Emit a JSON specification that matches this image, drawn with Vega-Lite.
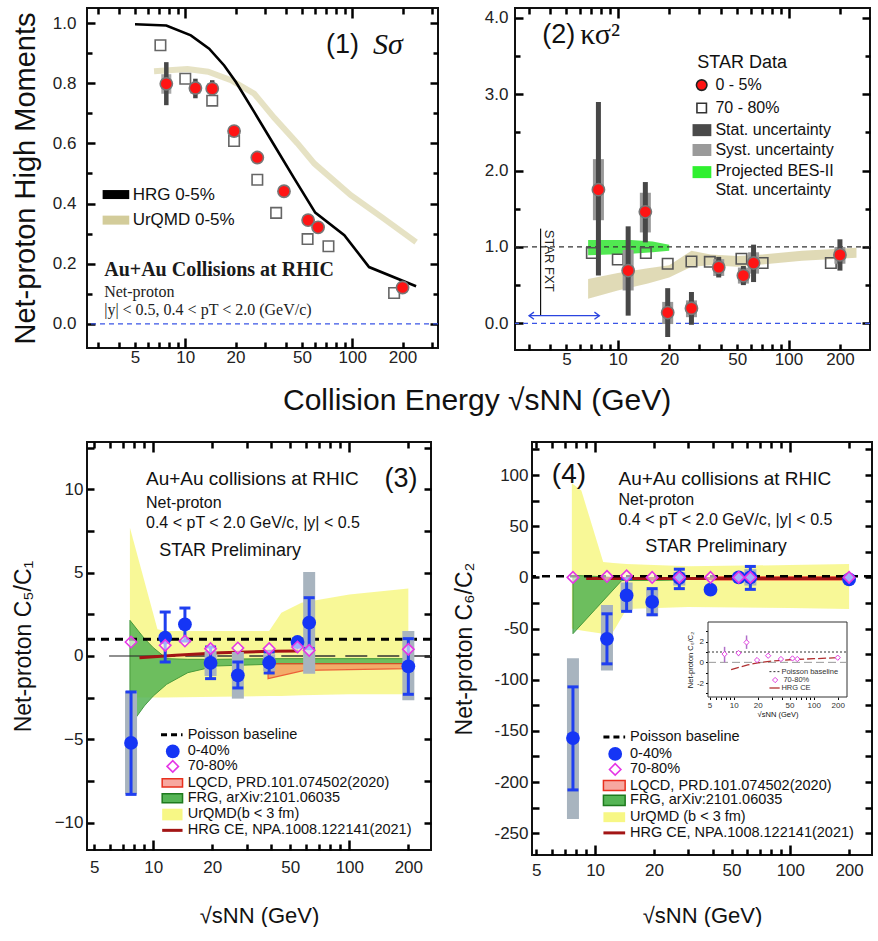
{
  "$schema": "https://vega.github.io/schema/vega-lite/v6.json",
  "padding": {"left": 9, "top": 5, "right": 0, "bottom": 0},
  "config": {
    "font": "Liberation Sans",
    "view": {"stroke": "#111", "strokeWidth": 2},
    "axis": {"grid": false, "domain": false, "ticks": true, "tickColor": "black", "tickWidth": 2.5, "tickOpacity": 1, "labelFontSize": 17, "labelColor": "#222", "titleColor": "#111", "titleFontWeight": "normal", "labelFlush": false, "labelOverlap": false, "labelFont": "Liberation Sans", "titleFont": "Liberation Sans"}
  },
  "datasets": {
    "p1_hrg": [{"e":5,"v":0.996},{"e":7.7,"v":0.992},{"e":10.8,"v":0.959},{"e":13.9,"v":0.915},{"e":17.1,"v":0.859},{"e":20.1,"v":0.804},{"e":25.9,"v":0.704},{"e":34.1,"v":0.594},{"e":45,"v":0.483},{"e":60,"v":0.37},{"e":89.6,"v":0.295},{"e":126,"v":0.189},{"e":241,"v":0.125}],
    "p1_urqmd": [{"e":6.5,"v":0.84},{"e":10.3,"v":0.847},{"e":13.7,"v":0.838},{"e":18.8,"v":0.81},{"e":25.9,"v":0.765},{"e":34.1,"v":0.685},{"e":47,"v":0.6},{"e":59.3,"v":0.533},{"e":98,"v":0.428},{"e":150,"v":0.355},{"e":241,"v":0.272}],
    "p1_red": [{"e":7.7,"v":0.798},{"e":11.5,"v":0.784},{"e":14.5,"v":0.782},{"e":19.6,"v":0.641},{"e":27,"v":0.553},{"e":39,"v":0.441},{"e":54.4,"v":0.345},{"e":62.4,"v":0.321},{"e":200,"v":0.121}],
    "p1_err": [{"e":7.7,"slo":0.727,"shi":0.87,"ylo":0.765,"yhi":0.83},{"e":11.5,"slo":0.75,"shi":0.815,"ylo":0.765,"yhi":0.8},{"e":14.5,"slo":0.762,"shi":0.81,"ylo":0.77,"yhi":0.8}],
    "p1_sq": [{"e":7.1,"v":0.926},{"e":10,"v":0.815},{"e":14.5,"v":0.742},{"e":19.6,"v":0.608},{"e":27,"v":0.479},{"e":35,"v":0.369},{"e":54,"v":0.282},{"e":72,"v":0.258},{"e":178,"v":0.103}],
    "p2_red": [{"e":7.7,"v":1.75,"slo":0.625,"shi":2.9,"ylo":1.35,"yhi":2.15},{"e":11.5,"v":0.69,"slo":0.1,"shi":1.27,"ylo":0.43,"yhi":0.96},{"e":14.5,"v":1.46,"slo":1.06,"shi":1.85,"ylo":1.19,"yhi":1.71},{"e":19.6,"v":0.14,"slo":-0.18,"shi":0.46,"ylo":-0.01,"yhi":0.28},{"e":27,"v":0.197,"slo":-0.02,"shi":0.41,"ylo":0.08,"yhi":0.3},{"e":39,"v":0.734,"slo":0.6,"shi":0.87,"ylo":0.62,"yhi":0.84},{"e":54.4,"v":0.625,"slo":0.5,"shi":0.75,"ylo":0.52,"yhi":0.73},{"e":62.4,"v":0.79,"slo":0.54,"shi":1.03,"ylo":0.65,"yhi":0.93},{"e":200,"v":0.896,"slo":0.69,"shi":1.1,"ylo":0.78,"yhi":1.0}],
    "p2_sq": [{"e":7.05,"v":0.92},{"e":10,"v":0.835},{"e":14.6,"v":0.92},{"e":19.6,"v":0.78},{"e":27,"v":0.81},{"e":34.6,"v":0.805},{"e":53,"v":0.845},{"e":70.5,"v":0.79},{"e":177,"v":0.79}],
    "p2_urqmd": [{"e":6.7,"lo":0.32,"hi":0.58},{"e":10,"lo":0.43,"hi":0.66},{"e":15,"lo":0.52,"hi":0.72},{"e":20,"lo":0.6,"hi":0.76},{"e":27,"lo":0.74,"hi":0.95},{"e":35,"lo":0.76,"hi":0.9},{"e":50,"lo":0.74,"hi":0.88},{"e":70,"lo":0.77,"hi":0.9},{"e":120,"lo":0.82,"hi":0.95},{"e":250,"lo":0.86,"hi":0.99}],
    "p2_bes": [{"e":6.7,"lo":0.89,"hi":1.09},{"e":12,"lo":0.91,"hi":1.09},{"e":16,"lo":0.93,"hi":1.07},{"e":20,"lo":0.95,"hi":1.03}],
    "p3_blue": [{"e":7.7,"v":-5.22},{"e":11.5,"v":1.1},{"e":14.5,"v":1.9},{"e":19.6,"v":-0.42},{"e":27,"v":-1.16},{"e":39,"v":-0.4},{"e":54.4,"v":0.84},{"e":62.4,"v":2.0},{"e":200,"v":-0.62}],
    "p3_stat": [{"e":7.7,"lo":-8.31,"hi":-2.16},{"e":11.5,"lo":-0.36,"hi":2.64},{"e":14.5,"lo":0.9,"hi":2.88},{"e":19.6,"lo":-1.36,"hi":0.54},{"e":27,"lo":-1.92,"hi":-0.36},{"e":39,"lo":-1.02,"hi":0.24},{"e":62.4,"lo":0.44,"hi":3.5},{"e":200,"lo":-2.3,"hi":1.04}],
    "p3_sys": [{"e":7.7,"lo":-8.3,"hi":-2.1},{"e":19.6,"lo":-1.2,"hi":0.3},{"e":27,"lo":-2.56,"hi":0.24},{"e":39,"lo":-0.9,"hi":0.1},{"e":62.4,"lo":-1.06,"hi":5.05},{"e":200,"lo":-2.66,"hi":1.5}],
    "p3_dia": [{"e":7.7,"v":0.84},{"e":11.5,"v":0.64},{"e":14.5,"v":0.9},{"e":19.6,"v":0.44},{"e":27,"v":0.48},{"e":39,"v":0.44},{"e":54.4,"v":0.54},{"e":62.4,"v":0.34},{"e":200,"v":0.4}],
    "p3_urqmd": [{"e":7.6,"lo":-2.5,"hi":7.7},{"e":10.5,"lo":-2.5,"hi":1.6},{"e":11.5,"lo":-2.5,"hi":1.5},{"e":39,"lo":-2.4,"hi":1.5},{"e":45,"lo":-2.4,"hi":2.6},{"e":57,"lo":-2.35,"hi":3.2},{"e":100,"lo":-2.3,"hi":3.7},{"e":200,"lo":-2.3,"hi":4.05}],
    "p3_frg": [{"e":7.6,"lo":-4.2,"hi":2.14},{"e":9,"lo":-3.0,"hi":1.05},{"e":10,"lo":-2.4,"hi":0.5},{"e":11.7,"lo":-1.7,"hi":-0.16},{"e":15,"lo":-1.0,"hi":-0.2},{"e":21,"lo":-0.6,"hi":-0.2},{"e":39,"lo":-0.5,"hi":-0.16},{"e":200,"lo":-0.46,"hi":-0.16}],
    "p3_lqcd": [{"e":38.5,"lo":-1.36,"hi":-0.46},{"e":59,"lo":-0.86,"hi":-0.46},{"e":198,"lo":-0.76,"hi":-0.46}],
    "p3_hrg": [{"e":8.5,"v":-0.1},{"e":13,"v":0.05},{"e":22,"v":0.2},{"e":40,"v":0.28},{"e":55,"v":0.3}],
    "p4_blue": [{"e":7.7,"v":-157},{"e":11.5,"v":-60},{"e":14.5,"v":-17.6},{"e":19.6,"v":-24},{"e":27,"v":-0.4},{"e":39,"v":-12},{"e":54.4,"v":0},{"e":62.4,"v":0},{"e":200,"v":-2}],
    "p4_stat": [{"e":7.7,"lo":-207.7,"hi":-107},{"e":11.5,"lo":-84.5,"hi":-35.6},{"e":14.5,"lo":-33.2,"hi":-1.3},{"e":19.6,"lo":-36.5,"hi":-11},{"e":27,"lo":-11,"hi":8},{"e":62.4,"lo":-11.7,"hi":10.7}],
    "p4_sys": [{"e":7.7,"lo":-236,"hi":-79},{"e":11.5,"lo":-91,"hi":-27},{"e":14.5,"lo":-32,"hi":-5},{"e":19.6,"lo":-38,"hi":-12},{"e":27,"lo":-8,"hi":5},{"e":39,"lo":-16,"hi":-9},{"e":54.4,"lo":-4,"hi":4},{"e":62.4,"lo":-8,"hi":8}],
    "p4_dia": [{"e":7.7,"v":0},{"e":11.5,"v":1},{"e":14.5,"v":1.5},{"e":19.6,"v":0},{"e":27,"v":0},{"e":39,"v":0},{"e":54.4,"v":0},{"e":62.4,"v":0},{"e":200,"v":0}],
    "p4_urqmd": [{"e":7.6,"lo":-50,"hi":92},{"e":8.5,"lo":-52,"hi":85},{"e":11,"lo":-55,"hi":15},{"e":12.4,"lo":-53,"hi":14},{"e":14.5,"lo":-31,"hi":13},{"e":30,"lo":-29,"hi":11},{"e":100,"lo":-30,"hi":12},{"e":200,"lo":-31,"hi":13}],
    "p4_frg": [{"e":7.7,"lo":-55,"hi":2},{"e":10,"lo":-31.4,"hi":1},{"e":13.7,"lo":-3,"hi":-0.5},{"e":20,"lo":-3,"hi":-0.5},{"e":27,"lo":-2.5,"hi":-0.5}],
    "p4_lqcd": [{"e":39,"lo":-3,"hi":1},{"e":200,"lo":-3,"hi":1}],
    "p4_hrg": [{"e":9,"v":-1},{"e":200,"v":-1}],
    "p4_inset": [{"e":7.7,"v":0.8,"lo":0.0,"hi":1.5},{"e":11.5,"v":0.9,"lo":0.6,"hi":1.1},{"e":14.5,"v":1.93,"lo":1.3,"hi":2.6},{"e":19.6,"v":0.22,"lo":0.1,"hi":0.35},{"e":27,"v":0.64,"lo":0.5,"hi":0.8},{"e":39,"v":0.32,"lo":0.25,"hi":0.4},{"e":54.4,"v":0.38,"lo":0.3,"hi":0.45},{"e":62.4,"v":0.32,"lo":0.25,"hi":0.4},{"e":200,"v":0.45,"lo":0.38,"hi":0.52}],
    "p4_inset_hrg": [{"e":9.3,"v":-0.7},{"e":12,"v":-0.45},{"e":15,"v":-0.25},{"e":20,"v":-0.05},{"e":30,"v":0.12},{"e":50,"v":0.25},{"e":100,"v":0.35},{"e":200,"v":0.45}]
  },
  "spacing": 21,
  "vconcat": [
    {
      "spacing": 42,
      "title": {"text": "Collision Energy √sNN (GeV)", "orient": "bottom", "anchor": "middle", "fontSize": 30, "fontWeight": "normal", "font": "Liberation Sans", "color": "#111", "offset": 18, "dx": 36},
      "hconcat": [
        {
          "width": 351, "height": 340,
          "resolve": {"axis": {"x": "independent", "y": "independent"}},
          "layer": [
            {"data": {"name": "p1_urqmd"}, "mark": {"type": "line", "color": "#ddd8b0", "strokeWidth": 6, "opacity": 0.75, "clip": true},
             "encoding": {
               "x": {"field": "e", "type": "quantitative", "scale": {"type": "log", "domain": [2.58, 326], "nice": false},
                     "axis": {"orient": "bottom", "title": null, "values": [10, 100], "offset": -10, "tickSize": 10, "tickColor": "black", "tickWidth": 2.5, "labelPadding": 1}},
               "y": {"field": "v", "type": "quantitative", "scale": {"domain": [-0.08, 1.05], "nice": false, "zero": false},
                     "axis": {"orient": "left", "title": "Net-proton High Moments", "titleFontSize": 29, "titleX": -70, "titleBaseline": "middle", "values": [0,0.2,0.4,0.6,0.8,1.0], "format": ".1f", "offset": -8, "tickSize": 8, "tickColor": "black", "tickWidth": 2.5, "labelPadding": 11}}
             }},
            {"data": {"name": "p1_hrg"}, "mark": {"type": "line", "color": "#000", "strokeWidth": 2.6, "clip": true},
             "encoding": {
               "x": {"field": "e", "type": "quantitative", "axis": {"orient": "top", "title": null, "labels": false, "values": [10, 100], "offset": -10, "tickSize": 10, "tickColor": "black", "tickWidth": 2.5}},
               "y": {"field": "v", "type": "quantitative", "axis": {"orient": "right", "title": null, "labels": false, "values": [0,0.2,0.4,0.6,0.8,1.0], "offset": -8, "tickSize": 8, "tickColor": "black", "tickWidth": 2.5}}
             }},
            {"data": {"values": [{}]}, "mark": {"type": "rule", "color": "#3a55e6", "strokeDash": [5, 4], "strokeWidth": 1.3},
             "encoding": {"y": {"datum": 0, "type": "quantitative", "axis": null}}},
            {"data": {"name": "p1_err"}, "mark": {"type": "rule", "color": "#a8a8a8", "strokeWidth": 10},
             "encoding": {
               "x": {"field": "e", "type": "quantitative", "axis": {"orient": "bottom", "title": null, "values": [3,4,5,6,7,8,9,20,30,40,50,60,70,80,90,200,300], "labelExpr": "indexof([5,20,50,200], datum.value) >= 0 ? '' + datum.value : ''", "offset": -6, "tickSize": 6, "tickColor": "black", "tickWidth": 2.5, "labelPadding": 1}},
               "y": {"field": "ylo", "type": "quantitative", "axis": {"orient": "left", "title": null, "labels": false, "values": [0.1,0.3,0.5,0.7,0.9], "offset": -5, "tickSize": 5, "tickColor": "black", "tickWidth": 2.5}},
               "y2": {"field": "yhi"}}},
            {"data": {"name": "p1_err"}, "mark": {"type": "rule", "color": "#474747", "strokeWidth": 4.5},
             "encoding": {
               "x": {"field": "e", "type": "quantitative", "axis": {"orient": "top", "title": null, "labels": false, "values": [3,4,5,6,7,8,9,20,30,40,50,60,70,80,90,200,300], "offset": -6, "tickSize": 6, "tickColor": "black", "tickWidth": 2.5}},
               "y": {"field": "slo", "type": "quantitative", "axis": {"orient": "right", "title": null, "labels": false, "values": [0.1,0.3,0.5,0.7,0.9], "offset": -5, "tickSize": 5, "tickColor": "black", "tickWidth": 2.5}},
               "y2": {"field": "shi"}}},
            {"data": {"name": "p1_sq"}, "mark": {"type": "point", "shape": "square", "filled": false, "stroke": "#666", "strokeWidth": 1.6, "size": 110, "opacity": 1},
             "encoding": {"x": {"field": "e", "type": "quantitative", "axis": null}, "y": {"field": "v", "type": "quantitative", "axis": null}}},
            {"data": {"name": "p1_red"}, "mark": {"type": "point", "shape": "circle", "filled": true, "fill": "#ff1414", "stroke": "#777", "strokeWidth": 1.6, "size": 150, "opacity": 1},
             "encoding": {"x": {"field": "e", "type": "quantitative", "axis": null}, "y": {"field": "v", "type": "quantitative", "axis": null}}},
            {"data": {"values": [{"x1": 3.2, "x2": 4.62, "v": 0.43}]}, "mark": {"type": "rule", "color": "#000", "strokeWidth": 9},
             "encoding": {"x": {"field": "x1", "type": "quantitative", "axis": null}, "x2": {"field": "x2"}, "y": {"field": "v", "type": "quantitative", "axis": null}}},
            {"data": {"values": [{"x1": 3.2, "x2": 4.62, "v": 0.345}]}, "mark": {"type": "rule", "color": "#d3cc9a", "strokeWidth": 9},
             "encoding": {"x": {"field": "x1", "type": "quantitative", "axis": null}, "x2": {"field": "x2"}, "y": {"field": "v", "type": "quantitative", "axis": null}}},
            {"data": {"values": [{"e": 4.84, "v": 0.43, "t": "HRG 0-5%"}, {"e": 4.84, "v": 0.345, "t": "UrQMD 0-5%"}]},
             "mark": {"type": "text", "align": "left", "baseline": "middle", "font": "Liberation Sans", "fontSize": 17, "color": "#111"},
             "encoding": {"x": {"field": "e", "type": "quantitative", "axis": null}, "y": {"field": "v", "type": "quantitative", "axis": null}, "text": {"field": "t"}}},
            {"data": {"values": [{"e": 3.27, "v": 0.178, "t": "Au+Au Collisions at RHIC"}]},
             "mark": {"type": "text", "align": "left", "baseline": "middle", "font": "Liberation Serif", "fontWeight": "bold", "fontSize": 20, "color": "#1a1a1a"},
             "encoding": {"x": {"field": "e", "type": "quantitative", "axis": null}, "y": {"field": "v", "type": "quantitative", "axis": null}, "text": {"field": "t"}}},
            {"data": {"values": [{"e": 3.27, "v": 0.106, "t": "Net-proton"}, {"e": 3.27, "v": 0.0455, "t": "|y| < 0.5,  0.4 < pT < 2.0 (GeV/c)"}]},
             "mark": {"type": "text", "align": "left", "baseline": "middle", "font": "Liberation Serif", "fontSize": 16, "color": "#222"},
             "encoding": {"x": {"field": "e", "type": "quantitative", "axis": null}, "y": {"field": "v", "type": "quantitative", "axis": null}, "text": {"field": "t"}}},
            {"data": {"values": [{"e": 69.6, "v": 0.927, "t": "(1)"}]},
             "mark": {"type": "text", "align": "left", "baseline": "middle", "font": "Liberation Sans", "fontSize": 27, "color": "#111"},
             "encoding": {"x": {"field": "e", "type": "quantitative", "axis": null}, "y": {"field": "v", "type": "quantitative", "axis": null}, "text": {"field": "t"}}},
            {"data": {"values": [{"e": 133, "v": 0.927, "t": "Sσ"}]},
             "mark": {"type": "text", "align": "left", "baseline": "middle", "font": "Liberation Serif", "fontStyle": "italic", "fontSize": 30, "color": "#111"},
             "encoding": {"x": {"field": "e", "type": "quantitative", "axis": null}, "y": {"field": "v", "type": "quantitative", "axis": null}, "text": {"field": "t"}}}
          ]
        },
        {
          "width": 355, "height": 342,
          "resolve": {"axis": {"x": "independent", "y": "independent"}},
          "layer": [
            {"data": {"name": "p2_urqmd"}, "mark": {"type": "area", "color": "#d8d1a4", "opacity": 0.8, "clip": true},
             "encoding": {
               "x": {"field": "e", "type": "quantitative", "scale": {"type": "log", "domain": [2.5, 300], "nice": false},
                     "axis": {"orient": "bottom", "title": null, "values": [10, 100], "offset": -10, "tickSize": 10, "tickColor": "black", "tickWidth": 2.5, "labelPadding": 1}},
               "y": {"field": "lo", "type": "quantitative", "scale": {"domain": [-0.35, 4.13], "nice": false, "zero": false},
                     "axis": {"orient": "left", "title": null, "values": [0,1,2,3,4], "format": ".1f", "offset": -8, "tickSize": 8, "tickColor": "black", "tickWidth": 2.5, "labelPadding": 7}},
               "y2": {"field": "hi"}
             }},
            {"data": {"name": "p2_bes"}, "mark": {"type": "area", "color": "#33e433", "opacity": 0.85},
             "encoding": {"x": {"field": "e", "type": "quantitative", "axis": null}, "y": {"field": "lo", "type": "quantitative", "axis": null}, "y2": {"field": "hi"}}},
            {"data": {"values": [{}]}, "mark": {"type": "rule", "color": "#333", "strokeDash": [5, 4], "strokeWidth": 1.3},
             "encoding": {"y": {"datum": 1, "type": "quantitative", "axis": null}}},
            {"data": {"values": [{}]}, "mark": {"type": "rule", "color": "#3a55e6", "strokeDash": [5, 4], "strokeWidth": 1.3},
             "encoding": {"y": {"datum": 0, "type": "quantitative", "axis": null}}},
            {"data": {"name": "p2_sq"}, "mark": {"type": "point", "shape": "square", "filled": false, "stroke": "#555", "strokeWidth": 1.6, "size": 110, "opacity": 1},
             "encoding": {
               "x": {"field": "e", "type": "quantitative", "axis": {"orient": "top", "title": null, "labels": false, "values": [10, 100], "offset": -10, "tickSize": 10, "tickColor": "black", "tickWidth": 2.5}},
               "y": {"field": "v", "type": "quantitative", "axis": {"orient": "right", "title": null, "labels": false, "values": [0,1,2,3,4], "offset": -8, "tickSize": 8, "tickColor": "black", "tickWidth": 2.5}}
             }},
            {"data": {"name": "p2_red"}, "mark": {"type": "rule", "color": "#999", "strokeWidth": 11},
             "encoding": {
               "x": {"field": "e", "type": "quantitative", "axis": {"orient": "bottom", "title": null, "values": [3,4,5,6,7,8,9,20,30,40,50,60,70,80,90,200], "labelExpr": "indexof([5,20,50,200], datum.value) >= 0 ? '' + datum.value : ''", "offset": -6, "tickSize": 6, "tickColor": "black", "tickWidth": 2.5, "labelPadding": 1}},
               "y": {"field": "ylo", "type": "quantitative", "axis": {"orient": "left", "title": null, "labels": false, "values": [0.5,1.5,2.5,3.5], "offset": -5, "tickSize": 5, "tickColor": "black", "tickWidth": 2.5}},
               "y2": {"field": "yhi"}}},
            {"data": {"name": "p2_red"}, "mark": {"type": "rule", "color": "#474747", "strokeWidth": 5},
             "encoding": {
               "x": {"field": "e", "type": "quantitative", "axis": {"orient": "top", "title": null, "labels": false, "values": [3,4,5,6,7,8,9,20,30,40,50,60,70,80,90,200], "offset": -6, "tickSize": 6, "tickColor": "black", "tickWidth": 2.5}},
               "y": {"field": "slo", "type": "quantitative", "axis": {"orient": "right", "title": null, "labels": false, "values": [0.5,1.5,2.5,3.5], "offset": -5, "tickSize": 5, "tickColor": "black", "tickWidth": 2.5}},
               "y2": {"field": "shi"}}},
            {"data": {"name": "p2_red"}, "mark": {"type": "point", "shape": "circle", "filled": true, "fill": "#ff1414", "stroke": "#777", "strokeWidth": 1.6, "size": 150, "opacity": 1},
             "encoding": {"x": {"field": "e", "type": "quantitative", "axis": null}, "y": {"field": "v", "type": "quantitative", "axis": null}}},
            {"data": {"values": [{"e": 3.53, "v1": 0.105, "v2": 1.24}]}, "mark": {"type": "rule", "color": "#111", "strokeWidth": 1.2},
             "encoding": {"x": {"field": "e", "type": "quantitative", "axis": null}, "y": {"field": "v1", "type": "quantitative", "axis": null}, "y2": {"field": "v2"}}},
            {"data": {"values": [{"e1": 3.02, "e2": 7.8, "v": 0.1}]}, "mark": {"type": "rule", "color": "#2b45e0", "strokeWidth": 1.3},
             "encoding": {"x": {"field": "e1", "type": "quantitative", "axis": null}, "x2": {"field": "e2"}, "y": {"field": "v", "type": "quantitative", "axis": null}}},
            {"data": {"values": [{"e": 3.02, "v": 0.1}]}, "mark": {"type": "point", "shape": "M1.4,-1L0,0L1.4,1", "filled": false, "stroke": "#2b45e0", "strokeWidth": 1.3, "size": 50, "opacity": 1},
             "encoding": {"x": {"field": "e", "type": "quantitative", "axis": null}, "y": {"field": "v", "type": "quantitative", "axis": null}}},
            {"data": {"values": [{"e": 7.8, "v": 0.1}]}, "mark": {"type": "point", "shape": "M-1.4,-1L0,0L-1.4,1", "filled": false, "stroke": "#2b45e0", "strokeWidth": 1.3, "size": 50, "opacity": 1},
             "encoding": {"x": {"field": "e", "type": "quantitative", "axis": null}, "y": {"field": "v", "type": "quantitative", "axis": null}}},
            {"data": {"values": [{"e": 3.94, "v": 0.82, "t": "STAR FXT"}]},
             "mark": {"type": "text", "align": "center", "baseline": "middle", "angle": 90, "font": "Liberation Sans", "fontSize": 13, "color": "#222"},
             "encoding": {"x": {"field": "e", "type": "quantitative", "axis": null}, "y": {"field": "v", "type": "quantitative", "axis": null}, "text": {"field": "t"}}},
            {"data": {"values": [{"e": 3.61, "v": 3.78, "t": "(2)"}]},
             "mark": {"type": "text", "align": "left", "baseline": "middle", "font": "Liberation Sans", "fontSize": 27, "color": "#111"},
             "encoding": {"x": {"field": "e", "type": "quantitative", "axis": null}, "y": {"field": "v", "type": "quantitative", "axis": null}, "text": {"field": "t"}}},
            {"data": {"values": [{"e": 6.03, "v": 3.78, "t": "κσ²"}]},
             "mark": {"type": "text", "align": "left", "baseline": "middle", "font": "Liberation Serif", "fontSize": 30, "color": "#111"},
             "encoding": {"x": {"field": "e", "type": "quantitative", "axis": null}, "y": {"field": "v", "type": "quantitative", "axis": null}, "text": {"field": "t"}}},
            {"data": {"values": [{"e": 29.2, "v": 3.41, "t": "STAR Data"}]},
             "mark": {"type": "text", "align": "left", "baseline": "middle", "font": "Liberation Sans", "fontSize": 18, "color": "#111"},
             "encoding": {"x": {"field": "e", "type": "quantitative", "axis": null}, "y": {"field": "v", "type": "quantitative", "axis": null}, "text": {"field": "t"}}},
            {"data": {"values": [{"e": 37.3, "v": 3.12, "t": "0 - 5%"}, {"e": 37.3, "v": 2.82, "t": "70 - 80%"}, {"e": 37.3, "v": 2.53, "t": "Stat. uncertainty"}, {"e": 37.3, "v": 2.27, "t": "Syst. uncertainty"}, {"e": 37.3, "v": 1.99, "t": "Projected BES-II"}, {"e": 37.3, "v": 1.74, "t": "Stat. uncertainty"}]},
             "mark": {"type": "text", "align": "left", "baseline": "middle", "font": "Liberation Sans", "fontSize": 16, "color": "#111"},
             "encoding": {"x": {"field": "e", "type": "quantitative", "axis": null}, "y": {"field": "v", "type": "quantitative", "axis": null}, "text": {"field": "t"}}},
            {"data": {"values": [{"e": 31, "v": 3.12}]}, "mark": {"type": "point", "shape": "circle", "filled": true, "fill": "#ff1414", "stroke": "#222", "strokeWidth": 1.6, "size": 110, "opacity": 1},
             "encoding": {"x": {"field": "e", "type": "quantitative", "axis": null}, "y": {"field": "v", "type": "quantitative", "axis": null}}},
            {"data": {"values": [{"e": 31, "v": 2.82}]}, "mark": {"type": "point", "shape": "square", "filled": false, "stroke": "#333", "strokeWidth": 1.6, "size": 90, "opacity": 1},
             "encoding": {"x": {"field": "e", "type": "quantitative", "axis": null}, "y": {"field": "v", "type": "quantitative", "axis": null}}},
            {"data": {"values": [{"x1": 27.4, "x2": 35.3, "v": 2.53}]}, "mark": {"type": "rule", "color": "#4a4a4a", "strokeWidth": 12},
             "encoding": {"x": {"field": "x1", "type": "quantitative", "axis": null}, "x2": {"field": "x2"}, "y": {"field": "v", "type": "quantitative", "axis": null}}},
            {"data": {"values": [{"x1": 27.4, "x2": 35.3, "v": 2.27}]}, "mark": {"type": "rule", "color": "#9a9a9a", "strokeWidth": 12},
             "encoding": {"x": {"field": "x1", "type": "quantitative", "axis": null}, "x2": {"field": "x2"}, "y": {"field": "v", "type": "quantitative", "axis": null}}},
            {"data": {"values": [{"x1": 27.4, "x2": 35.3, "v": 1.98}]}, "mark": {"type": "rule", "color": "#2ff02f", "strokeWidth": 12},
             "encoding": {"x": {"field": "x1", "type": "quantitative", "axis": null}, "x2": {"field": "x2"}, "y": {"field": "v", "type": "quantitative", "axis": null}}}
          ]
        }
      ]
    },
    {
      "spacing": 18,
      "hconcat": [
        {
          "width": 344, "height": 408,
          "resolve": {"axis": {"x": "independent", "y": "independent"}},
          "layer": [
            {"data": {"name": "p3_urqmd"}, "mark": {"type": "area", "color": "#f7f785", "opacity": 0.85, "clip": true},
             "encoding": {
               "x": {"field": "e", "type": "quantitative", "scale": {"type": "log", "domain": [4.59, 261], "nice": false},
                     "axis": {"orient": "bottom", "title": "√sNN (GeV)", "titleFontSize": 22, "titleY": 75, "titleBaseline": "middle", "values": [10, 100], "offset": -10, "tickSize": 10, "tickColor": "black", "tickWidth": 2.5, "labelPadding": 9}},
               "y": {"field": "lo", "type": "quantitative", "scale": {"domain": [-11.65, 12.85], "nice": false, "zero": false},
                     "axis": {"orient": "left", "title": "Net-proton C₅/C₁", "titleFontSize": 23, "titleX": -71, "titleBaseline": "middle", "values": [-10,-7.5,-5,-2.5,0,2.5,5,7.5,10,12.5], "labelExpr": "datum.value % 5 == 0 ? format(datum.value, 'd') : ''", "offset": -7, "tickSize": 7, "tickColor": "black", "tickWidth": 2.5, "labelPadding": 4}},
               "y2": {"field": "hi"}
             }},
            {"data": {"name": "p3_frg"}, "mark": {"type": "area", "color": "#55b555", "opacity": 0.85, "stroke": "#2a8a2a", "strokeWidth": 1},
             "encoding": {
               "x": {"field": "e", "type": "quantitative", "axis": {"orient": "top", "title": null, "labels": false, "values": [10, 100], "offset": -10, "tickSize": 10, "tickColor": "black", "tickWidth": 2.5}},
               "y": {"field": "lo", "type": "quantitative", "axis": {"orient": "right", "title": null, "labels": false, "values": [-10,-7.5,-5,-2.5,0,2.5,5,7.5,10,12.5], "offset": -7, "tickSize": 7, "tickColor": "black", "tickWidth": 2.5}},
               "y2": {"field": "hi"}
             }},
            {"data": {"name": "p3_lqcd"}, "mark": {"type": "area", "color": "#f39a5e", "opacity": 0.8, "stroke": "#ea3a20", "strokeWidth": 1.2},
             "encoding": {"x": {"field": "e", "type": "quantitative", "axis": null}, "y": {"field": "lo", "type": "quantitative", "axis": null}, "y2": {"field": "hi"}}},
            {"data": {"values": [{"e1": 5.95, "e2": 10, "v": 0}]}, "mark": {"type": "rule", "color": "#222", "strokeWidth": 1.2},
             "encoding": {"x": {"field": "e1", "type": "quantitative", "axis": null}, "x2": {"field": "e2"}, "y": {"field": "v", "type": "quantitative", "axis": null}}},
            {"data": {"values": [{"e1": 10, "e2": 261, "v": 0}]}, "mark": {"type": "rule", "color": "#333", "strokeWidth": 1.6, "strokeDash": [22, 10]},
             "encoding": {"x": {"field": "e1", "type": "quantitative", "axis": null}, "x2": {"field": "e2"}, "y": {"field": "v", "type": "quantitative", "axis": null}}},
            {"data": {"values": [{}]}, "mark": {"type": "rule", "color": "#000", "strokeDash": [8, 6], "strokeWidth": 3},
             "encoding": {"y": {"datum": 1, "type": "quantitative", "axis": null}}},
            {"data": {"name": "p3_hrg"}, "mark": {"type": "line", "color": "#a31515", "strokeWidth": 3},
             "encoding": {"x": {"field": "e", "type": "quantitative", "axis": null}, "y": {"field": "v", "type": "quantitative", "axis": null}}},
            {"data": {"name": "p3_sys"}, "mark": {"type": "rule", "color": "#a8b4bf", "strokeWidth": 12},
             "encoding": {
               "x": {"field": "e", "type": "quantitative", "axis": {"orient": "bottom", "title": null, "values": [5,6,7,8,9,20,30,40,50,60,70,80,90,200], "labelExpr": "indexof([5,20,50,200], datum.value) >= 0 ? '' + datum.value : ''", "offset": -6, "tickSize": 6, "tickColor": "black", "tickWidth": 2.5, "labelPadding": 9}},
               "y": {"field": "lo", "type": "quantitative", "axis": null}, "y2": {"field": "hi"}}},
            {"data": {"name": "p3_stat"}, "mark": {"type": "rule", "color": "#1f3ff0", "strokeWidth": 3},
             "encoding": {
               "x": {"field": "e", "type": "quantitative", "axis": {"orient": "top", "title": null, "labels": false, "values": [5,6,7,8,9,20,30,40,50,60,70,80,90,200], "offset": -6, "tickSize": 6, "tickColor": "black", "tickWidth": 2.5}},
               "y": {"field": "lo", "type": "quantitative", "axis": null}, "y2": {"field": "hi"}}},
            {"data": {"name": "p3_stat"}, "mark": {"type": "tick", "orient": "horizontal", "color": "#1f3ff0", "size": 11, "thickness": 3, "opacity": 1},
             "encoding": {"x": {"field": "e", "type": "quantitative", "axis": null}, "y": {"field": "lo", "type": "quantitative", "axis": null}}},
            {"data": {"name": "p3_stat"}, "mark": {"type": "tick", "orient": "horizontal", "color": "#1f3ff0", "size": 11, "thickness": 3, "opacity": 1},
             "encoding": {"x": {"field": "e", "type": "quantitative", "axis": null}, "y": {"field": "hi", "type": "quantitative", "axis": null}}},
            {"data": {"name": "p3_blue"}, "mark": {"type": "point", "shape": "circle", "filled": true, "fill": "#1535f5", "size": 190, "opacity": 1},
             "encoding": {"x": {"field": "e", "type": "quantitative", "axis": null}, "y": {"field": "v", "type": "quantitative", "axis": null}}},
            {"data": {"name": "p3_dia"}, "mark": {"type": "point", "shape": "diamond", "filled": true, "fill": "#fff", "fillOpacity": 0.6, "stroke": "#e536e5", "strokeWidth": 1.6, "size": 130, "opacity": 1},
             "encoding": {"x": {"field": "e", "type": "quantitative", "axis": null}, "y": {"field": "v", "type": "quantitative", "axis": null}}},
            {"data": {"values": [{"e": 9.18, "v": 10.65, "t": "Au+Au collisions at RHIC"}]},
             "mark": {"type": "text", "align": "left", "baseline": "middle", "font": "Liberation Sans", "fontSize": 19, "color": "#111"},
             "encoding": {"x": {"field": "e", "type": "quantitative", "axis": null}, "y": {"field": "v", "type": "quantitative", "axis": null}, "text": {"field": "t"}}},
            {"data": {"values": [{"e": 9.18, "v": 9.19, "t": "Net-proton"}, {"e": 9.18, "v": 8.0, "t": "0.4 < pT < 2.0 GeV/c, |y| < 0.5"}]},
             "mark": {"type": "text", "align": "left", "baseline": "middle", "font": "Liberation Sans", "fontSize": 16, "color": "#111"},
             "encoding": {"x": {"field": "e", "type": "quantitative", "axis": null}, "y": {"field": "v", "type": "quantitative", "axis": null}, "text": {"field": "t"}}},
            {"data": {"values": [{"e": 10.73, "v": 6.3, "t": "STAR Preliminary"}]},
             "mark": {"type": "text", "align": "left", "baseline": "middle", "font": "Liberation Sans", "fontSize": 18, "color": "#111"},
             "encoding": {"x": {"field": "e", "type": "quantitative", "axis": null}, "y": {"field": "v", "type": "quantitative", "axis": null}, "text": {"field": "t"}}},
            {"data": {"values": [{"e": 151, "v": 10.65, "t": "(3)"}]},
             "mark": {"type": "text", "align": "left", "baseline": "middle", "font": "Liberation Sans", "fontSize": 27, "color": "#111"},
             "encoding": {"x": {"field": "e", "type": "quantitative", "axis": null}, "y": {"field": "v", "type": "quantitative", "axis": null}, "text": {"field": "t"}}},
            {"data": {"values": [{"e1": 10.95, "e2": 14.1, "v": -4.73}]}, "mark": {"type": "rule", "color": "#000", "strokeDash": [6, 4], "strokeWidth": 3},
             "encoding": {"x": {"field": "e1", "type": "quantitative", "axis": null}, "x2": {"field": "e2"}, "y": {"field": "v", "type": "quantitative", "axis": null}}},
            {"data": {"values": [{"e": 12.57, "v": -5.73}]}, "mark": {"type": "point", "shape": "circle", "filled": true, "fill": "#1535f5", "size": 190, "opacity": 1},
             "encoding": {"x": {"field": "e", "type": "quantitative", "axis": null}, "y": {"field": "v", "type": "quantitative", "axis": null}}},
            {"data": {"values": [{"e": 12.57, "v": -6.63}]}, "mark": {"type": "point", "shape": "diamond", "filled": false, "stroke": "#e536e5", "strokeWidth": 1.6, "size": 130, "opacity": 1},
             "encoding": {"x": {"field": "e", "type": "quantitative", "axis": null}, "y": {"field": "v", "type": "quantitative", "axis": null}}},
            {"data": {"values": [{"e1": 11.1, "e2": 14.1, "v1": -7.37, "v2": -7.87}]}, "mark": {"type": "rect", "fill": "#f7a8a0", "stroke": "#e8301e", "strokeWidth": 1.5},
             "encoding": {"x": {"field": "e1", "type": "quantitative", "axis": null}, "x2": {"field": "e2"}, "y": {"field": "v1", "type": "quantitative", "axis": null}, "y2": {"field": "v2"}}},
            {"data": {"values": [{"e1": 11.1, "e2": 14.1, "v1": -8.27, "v2": -8.81}]}, "mark": {"type": "rect", "fill": "#55b555", "stroke": "#1e7a1e", "strokeWidth": 1.5},
             "encoding": {"x": {"field": "e1", "type": "quantitative", "axis": null}, "x2": {"field": "e2"}, "y": {"field": "v1", "type": "quantitative", "axis": null}, "y2": {"field": "v2"}}},
            {"data": {"values": [{"e1": 11.1, "e2": 14.1, "v1": -9.17, "v2": -9.87}]}, "mark": {"type": "rect", "fill": "#f7f785"},
             "encoding": {"x": {"field": "e1", "type": "quantitative", "axis": null}, "x2": {"field": "e2"}, "y": {"field": "v1", "type": "quantitative", "axis": null}, "y2": {"field": "v2"}}},
            {"data": {"values": [{"e1": 11.1, "e2": 14.1, "v": -10.47}]}, "mark": {"type": "rule", "color": "#a31515", "strokeWidth": 3},
             "encoding": {"x": {"field": "e1", "type": "quantitative", "axis": null}, "x2": {"field": "e2"}, "y": {"field": "v", "type": "quantitative", "axis": null}}},
            {"data": {"values": [{"e": 14.98, "v": -4.73, "t": "Poisson baseline"}, {"e": 14.98, "v": -5.73, "t": "0-40%"}, {"e": 14.98, "v": -6.63, "t": "70-80%"}, {"e": 14.98, "v": -7.6, "t": "LQCD, PRD.101.074502(2020)"}, {"e": 14.98, "v": -8.53, "t": "FRG, arXiv:2101.06035"}, {"e": 14.98, "v": -9.5, "t": "UrQMD(b < 3 fm)"}, {"e": 14.98, "v": -10.47, "t": "HRG CE, NPA.1008.122141(2021)"}]},
             "mark": {"type": "text", "align": "left", "baseline": "middle", "font": "Liberation Sans", "fontSize": 14.5, "color": "#111"},
             "encoding": {"x": {"field": "e", "type": "quantitative", "axis": null}, "y": {"field": "v", "type": "quantitative", "axis": null}, "text": {"field": "t"}}}
          ]
        },
        {
          "width": 340, "height": 413,
          "resolve": {"scale": {"x": "independent", "y": "independent"}, "axis": {"x": "independent", "y": "independent"}},
          "layer": [
            {
              "resolve": {"axis": {"x": "independent", "y": "independent"}},
              "layer": [
                {"data": {"name": "p4_urqmd"}, "mark": {"type": "area", "color": "#f7f785", "opacity": 0.85, "clip": true},
                 "encoding": {
                   "x": {"field": "e", "type": "quantitative", "scale": {"type": "log", "domain": [4.75, 262], "nice": false},
                         "axis": {"orient": "bottom", "title": "√sNN (GeV)", "titleFontSize": 22, "titleY": 70, "titleBaseline": "middle", "values": [10, 100], "offset": -10, "tickSize": 10, "tickColor": "black", "tickWidth": 2.5, "labelPadding": 7}},
                   "y": {"field": "lo", "type": "quantitative", "scale": {"domain": [-271.3, 132.3], "nice": false, "zero": false},
                         "axis": {"orient": "left", "title": "Net-proton C₆/C₂", "titleFontSize": 23, "titleX": -75, "titleBaseline": "middle", "values": [-250,-225,-200,-175,-150,-125,-100,-75,-50,-25,0,25,50,75,100,125], "labelExpr": "datum.value % 50 == 0 ? replace(format(datum.value, 'd'), '−', '-') : ''", "offset": -7, "tickSize": 7, "tickColor": "black", "tickWidth": 2.5, "labelPadding": 4}},
                   "y2": {"field": "hi"}
                 }},
                {"data": {"name": "p4_frg"}, "mark": {"type": "area", "color": "#55b555", "opacity": 0.85, "stroke": "#2a8a2a", "strokeWidth": 1},
                 "encoding": {
                   "x": {"field": "e", "type": "quantitative", "axis": {"orient": "top", "title": null, "labels": false, "values": [10, 100], "offset": -10, "tickSize": 10, "tickColor": "black", "tickWidth": 2.5}},
                   "y": {"field": "lo", "type": "quantitative", "axis": {"orient": "right", "title": null, "labels": false, "values": [-250,-225,-200,-175,-150,-125,-100,-75,-50,-25,0,25,50,75,100,125], "offset": -7, "tickSize": 7, "tickColor": "black", "tickWidth": 2.5}},
                   "y2": {"field": "hi"}
                 }},
                {"data": {"name": "p4_lqcd"}, "mark": {"type": "area", "color": "#ee2a1e", "opacity": 0.9},
                 "encoding": {"x": {"field": "e", "type": "quantitative", "axis": null}, "y": {"field": "lo", "type": "quantitative", "axis": null}, "y2": {"field": "hi"}}},
                {"data": {"name": "p4_hrg"}, "mark": {"type": "line", "color": "#a31515", "strokeWidth": 3},
                 "encoding": {"x": {"field": "e", "type": "quantitative", "axis": null}, "y": {"field": "v", "type": "quantitative", "axis": null}}},
                {"data": {"values": [{}]}, "mark": {"type": "rule", "color": "#000", "strokeDash": [8, 6], "strokeWidth": 2.5},
                 "encoding": {"y": {"datum": 1, "type": "quantitative", "axis": null}}},
                {"data": {"name": "p4_sys"}, "mark": {"type": "rule", "color": "#a8b4bf", "strokeWidth": 12},
                 "encoding": {
                   "x": {"field": "e", "type": "quantitative", "axis": {"orient": "bottom", "title": null, "values": [5,6,7,8,9,20,30,40,50,60,70,80,90,200], "labelExpr": "indexof([5,20,50,200], datum.value) >= 0 ? '' + datum.value : ''", "offset": -6, "tickSize": 6, "tickColor": "black", "tickWidth": 2.5, "labelPadding": 7}},
                   "y": {"field": "lo", "type": "quantitative", "axis": null}, "y2": {"field": "hi"}}},
                {"data": {"name": "p4_stat"}, "mark": {"type": "rule", "color": "#1f3ff0", "strokeWidth": 3},
                 "encoding": {
                   "x": {"field": "e", "type": "quantitative", "axis": {"orient": "top", "title": null, "labels": false, "values": [5,6,7,8,9,20,30,40,50,60,70,80,90,200], "offset": -6, "tickSize": 6, "tickColor": "black", "tickWidth": 2.5}},
                   "y": {"field": "lo", "type": "quantitative", "axis": null}, "y2": {"field": "hi"}}},
                {"data": {"name": "p4_stat"}, "mark": {"type": "tick", "orient": "horizontal", "color": "#1f3ff0", "size": 11, "thickness": 3, "opacity": 1},
                 "encoding": {"x": {"field": "e", "type": "quantitative", "axis": null}, "y": {"field": "lo", "type": "quantitative", "axis": null}}},
                {"data": {"name": "p4_stat"}, "mark": {"type": "tick", "orient": "horizontal", "color": "#1f3ff0", "size": 11, "thickness": 3, "opacity": 1},
                 "encoding": {"x": {"field": "e", "type": "quantitative", "axis": null}, "y": {"field": "hi", "type": "quantitative", "axis": null}}},
                {"data": {"name": "p4_blue"}, "mark": {"type": "point", "shape": "circle", "filled": true, "fill": "#1535f5", "size": 190, "opacity": 1},
                 "encoding": {"x": {"field": "e", "type": "quantitative", "axis": null}, "y": {"field": "v", "type": "quantitative", "axis": null}}},
                {"data": {"name": "p4_dia"}, "mark": {"type": "point", "shape": "diamond", "filled": true, "fill": "#fff", "fillOpacity": 0.6, "stroke": "#e536e5", "strokeWidth": 1.6, "size": 130, "opacity": 1},
                 "encoding": {"x": {"field": "e", "type": "quantitative", "axis": null}, "y": {"field": "v", "type": "quantitative", "axis": null}}},
                {"data": {"values": [{"e": 6.0, "v": 99.7, "t": "(4)"}]},
                 "mark": {"type": "text", "align": "left", "baseline": "middle", "font": "Liberation Sans", "fontSize": 28, "color": "#111"},
                 "encoding": {"x": {"field": "e", "type": "quantitative", "axis": null}, "y": {"field": "v", "type": "quantitative", "axis": null}, "text": {"field": "t"}}},
                {"data": {"values": [{"e": 13.17, "v": 96.4, "t": "Au+Au collisions at RHIC"}]},
                 "mark": {"type": "text", "align": "left", "baseline": "middle", "font": "Liberation Sans", "fontSize": 19, "color": "#111"},
                 "encoding": {"x": {"field": "e", "type": "quantitative", "axis": null}, "y": {"field": "v", "type": "quantitative", "axis": null}, "text": {"field": "t"}}},
                {"data": {"values": [{"e": 13.17, "v": 75.9, "t": "Net-proton"}, {"e": 13.17, "v": 55.7, "t": "0.4 < pT < 2.0 GeV/c, |y| < 0.5"}]},
                 "mark": {"type": "text", "align": "left", "baseline": "middle", "font": "Liberation Sans", "fontSize": 16, "color": "#111"},
                 "encoding": {"x": {"field": "e", "type": "quantitative", "axis": null}, "y": {"field": "v", "type": "quantitative", "axis": null}, "text": {"field": "t"}}},
                {"data": {"values": [{"e": 18.05, "v": 29.6, "t": "STAR Preliminary"}]},
                 "mark": {"type": "text", "align": "left", "baseline": "middle", "font": "Liberation Sans", "fontSize": 18, "color": "#111"},
                 "encoding": {"x": {"field": "e", "type": "quantitative", "axis": null}, "y": {"field": "v", "type": "quantitative", "axis": null}, "text": {"field": "t"}}},
                {"data": {"values": [{"e1": 11.03, "e2": 14.25, "v": -156}]}, "mark": {"type": "rule", "color": "#000", "strokeDash": [6, 4], "strokeWidth": 3},
                 "encoding": {"x": {"field": "e1", "type": "quantitative", "axis": null}, "x2": {"field": "e2"}, "y": {"field": "v", "type": "quantitative", "axis": null}}},
                {"data": {"values": [{"e": 12.67, "v": -172.5}]}, "mark": {"type": "point", "shape": "circle", "filled": true, "fill": "#1535f5", "size": 190, "opacity": 1},
                 "encoding": {"x": {"field": "e", "type": "quantitative", "axis": null}, "y": {"field": "v", "type": "quantitative", "axis": null}}},
                {"data": {"values": [{"e": 12.67, "v": -187.7}]}, "mark": {"type": "point", "shape": "diamond", "filled": false, "stroke": "#e536e5", "strokeWidth": 1.6, "size": 130, "opacity": 1},
                 "encoding": {"x": {"field": "e", "type": "quantitative", "axis": null}, "y": {"field": "v", "type": "quantitative", "axis": null}}},
                {"data": {"values": [{"e1": 11.03, "e2": 14.25, "v1": -198.5, "v2": -208.3}]}, "mark": {"type": "rect", "fill": "#f7a8a0", "stroke": "#e8301e", "strokeWidth": 1.5},
                 "encoding": {"x": {"field": "e1", "type": "quantitative", "axis": null}, "x2": {"field": "e2"}, "y": {"field": "v1", "type": "quantitative", "axis": null}, "y2": {"field": "v2"}}},
                {"data": {"values": [{"e1": 11.03, "e2": 14.25, "v1": -213, "v2": -223}]}, "mark": {"type": "rect", "fill": "#55b555", "stroke": "#1e7a1e", "strokeWidth": 1.5},
                 "encoding": {"x": {"field": "e1", "type": "quantitative", "axis": null}, "x2": {"field": "e2"}, "y": {"field": "v1", "type": "quantitative", "axis": null}, "y2": {"field": "v2"}}},
                {"data": {"values": [{"e1": 11.03, "e2": 14.25, "v1": -229.5, "v2": -239.2}]}, "mark": {"type": "rect", "fill": "#f7f785"},
                 "encoding": {"x": {"field": "e1", "type": "quantitative", "axis": null}, "x2": {"field": "e2"}, "y": {"field": "v1", "type": "quantitative", "axis": null}, "y2": {"field": "v2"}}},
                {"data": {"values": [{"e1": 11.03, "e2": 14.25, "v": -249.7}]}, "mark": {"type": "rule", "color": "#a31515", "strokeWidth": 3},
                 "encoding": {"x": {"field": "e1", "type": "quantitative", "axis": null}, "x2": {"field": "e2"}, "y": {"field": "v", "type": "quantitative", "axis": null}}},
                {"data": {"values": [{"e": 15.1, "v": -156, "t": "Poisson baseline"}, {"e": 15.1, "v": -172.5, "t": "0-40%"}, {"e": 15.1, "v": -187.7, "t": "70-80%"}, {"e": 15.1, "v": -203.4, "t": "LQCD, PRD.101.074502(2020)"}, {"e": 15.1, "v": -218, "t": "FRG, arXiv:2101.06035"}, {"e": 15.1, "v": -234, "t": "UrQMD (b < 3 fm)"}, {"e": 15.1, "v": -249.7, "t": "HRG CE, NPA.1008.122141(2021)"}]},
                 "mark": {"type": "text", "align": "left", "baseline": "middle", "font": "Liberation Sans", "fontSize": 14.5, "color": "#111"},
                 "encoding": {"x": {"field": "e", "type": "quantitative", "axis": null}, "y": {"field": "v", "type": "quantitative", "axis": null}, "text": {"field": "t"}}}
              ]
            },
            {
              "layer": [
                {"data": {"values": [{}]}, "mark": {"type": "rect", "fill": "#fff", "stroke": "#333", "strokeWidth": 1},
                 "encoding": {
                   "x": {"datum": 4.78, "type": "quantitative", "scale": {"type": "log", "domain": [4.78, 261], "range": [176, 315], "nice": false},
                         "axis": {"orient": "bottom", "offset": -158, "title": "√sNN (GeV)", "titleFontSize": 7.5, "titlePadding": 1, "values": [5,6,7,8,9,10,20,30,40,50,60,70,80,90,100,200], "labelExpr": "indexof([5,10,20,50,100,200], datum.value) >= 0 ? '' + datum.value : ''", "tickSize": 2.5, "tickColor": "black", "tickWidth": 1, "labelFontSize": 8, "labelPadding": 2, "labelColor": "#333"}},
                   "x2": {"datum": 261},
                   "y": {"datum": -3.35, "type": "quantitative", "scale": {"domain": [-3.35, 3.9], "range": [255, 180], "nice": false, "zero": false},
                         "axis": {"orient": "left", "offset": -176, "title": "Net-proton C₆/C₂", "titleFontSize": 7.5, "titlePadding": 2, "values": [-3,-2,-1,0,1,2,3], "labelExpr": "datum.value % 2 == 0 ? (datum.value < 0 ? '-' + abs(datum.value) : '' + datum.value) : ''", "tickSize": 2.5, "tickColor": "black", "tickWidth": 1, "labelFontSize": 8, "labelPadding": 2, "labelColor": "#333"}},
                   "y2": {"datum": 3.9}
                 }},
                {"data": {"values": [{"e1": 4.78, "e2": 261, "v": 1}]}, "mark": {"type": "rule", "color": "#333", "strokeDash": [2, 2], "strokeWidth": 1},
                 "encoding": {"x": {"field": "e1", "type": "quantitative"}, "x2": {"field": "e2"}, "y": {"field": "v", "type": "quantitative"}}},
                {"data": {"values": [{"e1": 4.78, "e2": 261, "v": 0}]}, "mark": {"type": "rule", "color": "#999", "strokeDash": [8, 4], "strokeWidth": 1},
                 "encoding": {"x": {"field": "e1", "type": "quantitative"}, "x2": {"field": "e2"}, "y": {"field": "v", "type": "quantitative"}}},
                {"data": {"name": "p4_inset_hrg"}, "mark": {"type": "line", "color": "#b03030", "strokeDash": [8, 3], "strokeWidth": 1.3},
                 "encoding": {"x": {"field": "e", "type": "quantitative"}, "y": {"field": "v", "type": "quantitative"}}},
                {"data": {"name": "p4_inset"}, "mark": {"type": "rule", "color": "#b070c8", "strokeWidth": 1.5},
                 "encoding": {"x": {"field": "e", "type": "quantitative"}, "y": {"field": "lo", "type": "quantitative"}, "y2": {"field": "hi"}}},
                {"data": {"name": "p4_inset"}, "mark": {"type": "point", "shape": "diamond", "filled": true, "fill": "#fff", "stroke": "#e040e0", "strokeWidth": 1, "size": 28, "opacity": 1},
                 "encoding": {"x": {"field": "e", "type": "quantitative"}, "y": {"field": "v", "type": "quantitative"}}},
                {"data": {"values": [{"e1": 28, "e2": 37.6, "v": -0.9}]}, "mark": {"type": "rule", "color": "#333", "strokeDash": [2, 2], "strokeWidth": 1},
                 "encoding": {"x": {"field": "e1", "type": "quantitative"}, "x2": {"field": "e2"}, "y": {"field": "v", "type": "quantitative"}}},
                {"data": {"values": [{"e": 33, "v": -1.71}]}, "mark": {"type": "point", "shape": "diamond", "filled": false, "stroke": "#e040e0", "strokeWidth": 1, "size": 28, "opacity": 1},
                 "encoding": {"x": {"field": "e", "type": "quantitative"}, "y": {"field": "v", "type": "quantitative"}}},
                {"data": {"values": [{"e1": 28, "e2": 37.6, "v": -2.48}]}, "mark": {"type": "rule", "color": "#b03030", "strokeWidth": 1.3},
                 "encoding": {"x": {"field": "e1", "type": "quantitative"}, "x2": {"field": "e2"}, "y": {"field": "v", "type": "quantitative"}}},
                {"data": {"values": [{"e": 39.5, "v": -0.9, "t": "Poisson baseline"}, {"e": 41.9, "v": -1.71, "t": "70-80%"}, {"e": 39.5, "v": -2.48, "t": "HRG CE"}]},
                 "mark": {"type": "text", "align": "left", "baseline": "middle", "font": "Liberation Sans", "fontSize": 7.5, "color": "#333"},
                 "encoding": {"x": {"field": "e", "type": "quantitative"}, "y": {"field": "v", "type": "quantitative"}, "text": {"field": "t"}}}
              ]
            }
          ]
        }
      ]
    }
  ]
}
